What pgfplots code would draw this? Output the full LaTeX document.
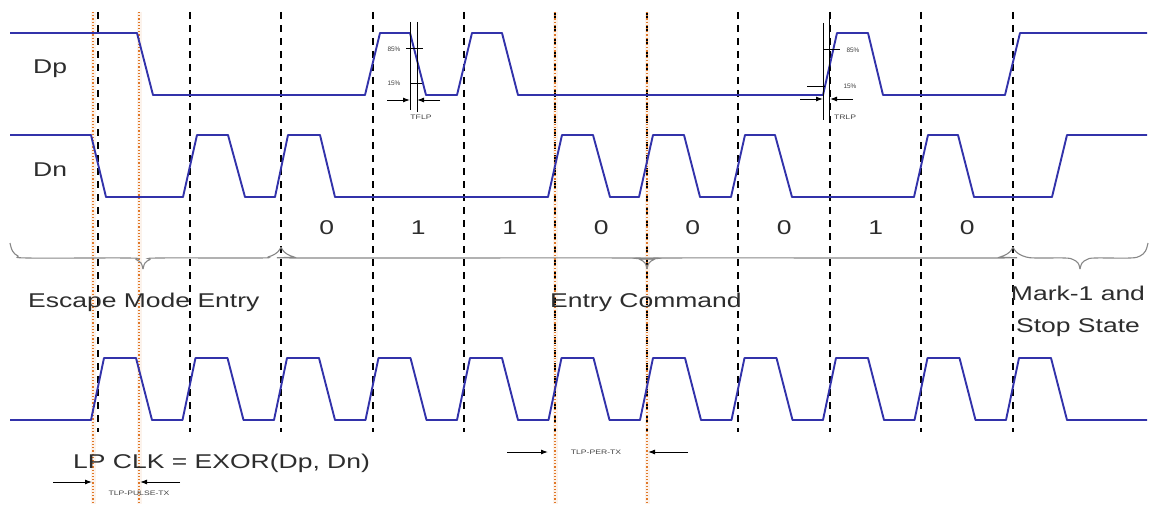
\documentclass[border=0pt]{standalone}
\usepackage{pgfplots}
\pgfplotsset{compat=1.18}
\usepackage{fontspec}
\setmainfont{Liberation Sans}
\usetikzlibrary{arrows.meta}
\definecolor{wave}{RGB}{50,50,170}
\definecolor{org}{RGB}{225,120,40}
\definecolor{txt}{RGB}{45,45,45}
\definecolor{brc}{RGB}{135,135,135}
\newcommand{\lbl}[1]{\scalebox{1.33}[1]{#1}}
\begin{document}
\begin{tikzpicture}
\begin{axis}[
  width=1155bp, height=504bp, scale only axis,
  xmin=0, xmax=1155, ymin=0, ymax=504, y dir=reverse,
  hide axis, clip=false,
  every axis plot/.append style={mark=none},
  dl/.style={black, line width=1.8bp, dash pattern=on 7bp off 6bp},
  od/.style={org, line width=1.1bp, dash pattern=on 1.2bp off 2bp},
  oh/.style={org!9, line width=5bp},
  wv/.style={wave, line width=1.9bp, line join=round},
  br/.style={brc, line width=1.1bp, smooth, tension=0.6},
  an/.style={black, line width=1bp},
  ar/.style={black, line width=1bp, -{Latex[length=7bp,width=5bp]}},
]
\addplot[draw=none] coordinates {(0,0) (1155,504)};
% orange halos
\addplot[oh] coordinates {(93,12) (93,504)};
\addplot[oh] coordinates {(139,12) (139,504)};
\addplot[oh] coordinates {(555,12) (555,504)};
\addplot[oh] coordinates {(647,12) (647,504)};
% dashed bit boundaries
\addplot[dl] coordinates {(98,12) (98,432)};
\addplot[dl] coordinates {(190,12) (190,432)};
\addplot[dl] coordinates {(281,12) (281,432)};
\addplot[dl] coordinates {(373,12) (373,432)};
\addplot[dl] coordinates {(464,12) (464,432)};
\addplot[dl] coordinates {(555,12) (555,432)};
\addplot[dl] coordinates {(647,12) (647,432)};
\addplot[dl] coordinates {(738,12) (738,432)};
\addplot[dl] coordinates {(830,12) (830,432)};
\addplot[dl] coordinates {(921,12) (921,432)};
\addplot[dl] coordinates {(1013,12) (1013,432)};
% orange dotted
\addplot[od] coordinates {(93,12) (93,504)};
\addplot[od] coordinates {(139,12) (139,504)};
\addplot[od] coordinates {(555,12) (555,504)};
\addplot[od] coordinates {(647,12) (647,504)};
% Dp
\addplot[wv] coordinates {(10,33) (137,33) (153,95) (365,95) (380,33) (410,33) (426,95) (457,95) (472,33) (502,33) (518,95) (823,95) (837,33) (868,33) (883,95) (1005,95) (1020,33) (1147,33)};
% Dn
\addplot[wv] coordinates {(10,135) (91,135) (106,197) (183,197) (197,135) (228,135) (245,197) (275,197) (288,135) (320,135) (335,197) (548,197) (562,135) (593,135) (610,197) (639,197) (653,135) (684,135) (700,197) (731,197) (745,135) (775,135) (792,197) (914,197) (928,135) (958,135) (974,197) (1052,197) (1067,135) (1147,135)};
% LP CLK
\addplot[wv] coordinates {(10,420) (91,420) (104,358) (136,358) (152,420)
 (182.5,420) (195.5,358) (227.5,358) (243.5,420)
 (274,420) (287,358) (319,358) (335,420)
 (365.5,420) (378.5,358) (410.5,358) (426.5,420)
 (457,420) (470,358) (502,358) (518,420)
 (548.5,420) (561.5,358) (593.5,358) (609.5,420)
 (640,420) (653,358) (685,358) (701,420)
 (731.5,420) (744.5,358) (776.5,358) (792.5,420)
 (823,420) (836,358) (868,358) (884,420)
 (914.5,420) (927.5,358) (959.5,358) (975.5,420)
 (1006,420) (1019,358) (1051,358) (1067,420) (1147,420)};
% braces
\addplot[br] coordinates {(10,243) (12.5,251) (18,256) (28,258) (128,258) (136,259.5) (141,263) (143,269)};
\addplot[br] coordinates {(143,269) (145,263) (150,259.5) (158,258) (258,258) (268,257) (275,254) (279,250.5) (281,247)};
\addplot[br] coordinates {(281,247) (283,250.5) (287,254) (294,257) (304,258) (632,258) (640,259.5) (645,263) (647,269)};
\addplot[br] coordinates {(647,269) (649,263) (654,259.5) (662,258) (990,258) (1000,257) (1007,254) (1011,250.5) (1013,247)};
\addplot[br] coordinates {(1013,247) (1015,250.5) (1019,254) (1026,257) (1036,258) (1065,258) (1073,259.5) (1078,263) (1080,269)};
\addplot[br] coordinates {(1080,269) (1082,263) (1087,259.5) (1095,258) (1130,258) (1140,256) (1145.5,251) (1148,243)};
% TFLP annotation
\addplot[an] coordinates {(410,22) (410,110)};
\addplot[an] coordinates {(417,22) (417,112)};
\addplot[an] coordinates {(406,49) (423,49)};
\addplot[an] coordinates {(410,83) (422,83)};
\addplot[ar] coordinates {(387,100) (410,100)};
\addplot[ar] coordinates {(440,100) (417,100)};
% TRLP annotation
\addplot[an] coordinates {(823,23) (823,120)};
\addplot[an] coordinates {(829,13) (829,120)};
\addplot[an] coordinates {(823,50) (840,50)};
\addplot[an] coordinates {(807,86) (825,86)};
\addplot[ar] coordinates {(800,99) (823,99)};
\addplot[ar] coordinates {(853,99) (830,99)};
% bottom timing arrows
\addplot[ar] coordinates {(53,482) (92,482)};
\addplot[ar] coordinates {(180,482) (140,482)};
\addplot[ar] coordinates {(507,452) (548,452)};
\addplot[ar] coordinates {(688,452) (648,452)};
% texts
\begin{scope}[every node/.style={text=txt, inner sep=0pt, font=\fontsize{20}{24}\selectfont}]
\node[anchor=base west] at (axis cs:33,74) {\lbl{Dp}};
\node[anchor=base west] at (axis cs:33,176) {\lbl{Dn}};
\node[anchor=base west] at (axis cs:28,307) {\lbl{Escape Mode Entry}};
\node[anchor=base west] at (axis cs:550,307) {\lbl{Entry Command}};
\node[anchor=base] at (axis cs:1078,300) {\lbl{Mark-1 and}};
\node[anchor=base] at (axis cs:1078,332) {\lbl{Stop State}};
\node[anchor=base west] at (axis cs:73,468) {\lbl{LP CLK = EXOR(Dp, Dn)}};
\node[anchor=base] at (axis cs:326.75,234) {\lbl{0}};
\node[anchor=base] at (axis cs:418.25,234) {\lbl{1}};
\node[anchor=base] at (axis cs:509.75,234) {\lbl{1}};
\node[anchor=base] at (axis cs:601.25,234) {\lbl{0}};
\node[anchor=base] at (axis cs:692.75,234) {\lbl{0}};
\node[anchor=base] at (axis cs:784.25,234) {\lbl{0}};
\node[anchor=base] at (axis cs:875.75,234) {\lbl{1}};
\node[anchor=base] at (axis cs:967.25,234) {\lbl{0}};
\end{scope}
\begin{scope}[every node/.style={text=black!75, inner sep=0pt, font=\fontsize{6.5}{7}\selectfont}]
\node at (axis cs:394,49) {85\%};
\node at (axis cs:394,83) {15\%};
\node at (axis cs:421,117) {\lbl{TFLP}};
\node at (axis cs:853,50) {85\%};
\node at (axis cs:850,86) {15\%};
\node at (axis cs:845,117) {\lbl{TRLP}};
\node at (axis cs:139,493) {\lbl{TLP-PULSE-TX}};
\node at (axis cs:596,452) {\lbl{TLP-PER-TX}};
\end{scope}
\end{axis}
\end{tikzpicture}
\end{document}
